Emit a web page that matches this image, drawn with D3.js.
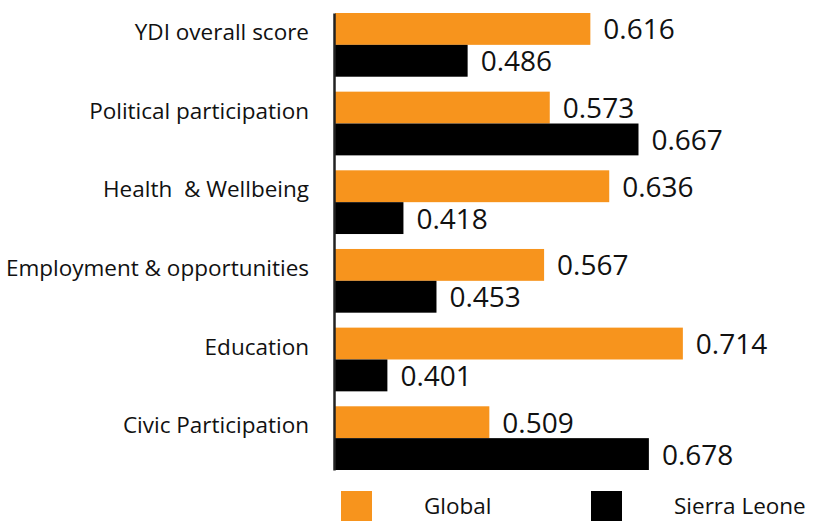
<!DOCTYPE html>
<html>
<head>
<meta charset="utf-8">
<script src="https://cdn.jsdelivr.net/npm/d3@7"></script>
<style>
  body { margin: 0; background: #fff; }
  text { font-family: "Open Sans", sans-serif; white-space: pre; }
</style>
</head>
<body>
<svg id="drawing_region"></svg>
<script>
const categories = ["YDI overall score", "Political participation", "Health  & Wellbeing",
                    "Employment & opportunities", "Education", "Civic Participation"];
const seriesNames = ["Global", "Sierra Leone"];
const globalValues = [0.616, 0.573, 0.636, 0.567, 0.714, 0.509];
const sierraLeoneValues = [0.486, 0.667, 0.418, 0.453, 0.401, 0.678];
const colors = ["#F7941D", "#000000"];

const data = categories.map((c, i) => ({
    category: c,
    values: [
        { key: seriesNames[0], value: globalValues[i] },
        { key: seriesNames[1], value: sierraLeoneValues[i] }
    ]
}));

const config = { width: 816, height: 521, left: 335, top: 13, bottom: 470 };

const svg = d3.select('#drawing_region')
    .attr('width', config.width)
    .attr('height', config.height);

// x axis starts above zero (no tick labels shown in the original)
const xscale = d3.scaleLinear()
    .domain([0.3455, 0.72])
    .range([config.left, config.left + 944 * (0.72 - 0.3455)]);

const yscale = d3.scaleBand()
    .domain(categories)
    .range([config.top, config.bottom])
    .paddingInner(0.19)
    .paddingOuter(0);

const inner = d3.scaleBand()
    .domain(seriesNames)
    .range([0, yscale.bandwidth()]);

const color = d3.scaleOrdinal().domain(seriesNames).range(colors);

const groups = svg.selectAll('g.group')
    .data(data)
    .enter()
    .append('g')
    .attr('class', 'group')
    .attr('transform', d => `translate(0, ${yscale(d.category)})`);

groups.selectAll('rect')
    .data(d => d.values)
    .enter()
    .append('rect')
    .attr('x', xscale.range()[0])
    .attr('y', d => inner(d.key))
    .attr('width', d => xscale(d.value) - xscale.range()[0])
    .attr('height', inner.bandwidth())
    .attr('fill', d => color(d.key));

groups.selectAll('text.value')
    .data(d => d.values)
    .enter()
    .append('text')
    .attr('class', 'value')
    .attr('x', d => xscale(d.value) + 13)
    .attr('y', d => inner(d.key) + inner.bandwidth() / 2 + 3)
    .attr('dominant-baseline', 'middle')
    .attr('font-size', '28px')
    .attr('fill', '#111')
    .text(d => d3.format('.3f')(d.value));

// category axis
const yaxis = d3.axisLeft(yscale).tickSize(0).tickSizeOuter(0).tickPadding(25);
const yaxis_group = svg.append('g')
    .attr('transform', `translate(${config.left - 1}, 0)`)
    .call(yaxis);
yaxis_group.select('.domain')
    .attr('stroke', '#222')
    .attr('stroke-width', 2.5);
yaxis_group.selectAll('.tick text')
    .attr('font-family', '"Open Sans", sans-serif')
    .attr('font-size', '22.5px')
    .attr('fill', '#111')
    .attr('transform', 'translate(0,-12)');

// legend
const legendX = d3.scaleOrdinal().domain(seriesNames).range([341, 591]);
const legend = svg.selectAll('g.legend')
    .data(seriesNames)
    .enter()
    .append('g')
    .attr('class', 'legend')
    .attr('transform', d => `translate(${legendX(d)}, 491)`);

legend.append('rect')
    .attr('width', 31)
    .attr('height', 31)
    .attr('fill', d => color(d));

legend.append('text')
    .attr('x', 83)
    .attr('y', 17)
    .attr('dominant-baseline', 'middle')
    .attr('font-size', '22.5px')
    .attr('fill', '#111')
    .text(d => d);
</script>
</body>
</html>
